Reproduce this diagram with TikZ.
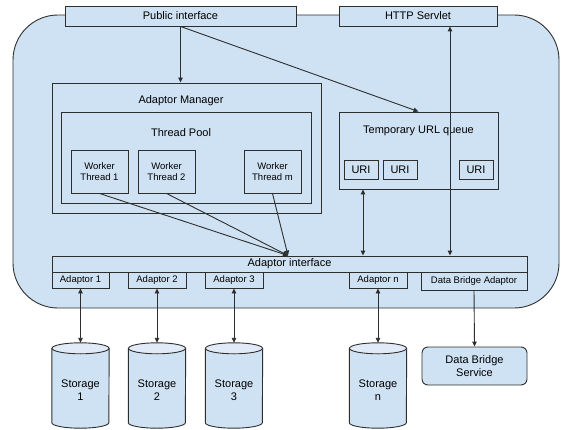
\documentclass[tikz,border=0pt]{standalone}
\usepackage{fontspec}
\setmainfont{Liberation Sans}
\usetikzlibrary{arrows.meta}
\definecolor{paleblue}{HTML}{CFE2F3}
\definecolor{capblue}{HTML}{E1EBF7}
\definecolor{edge}{HTML}{2E2E2E}

% storage drum drawn around a named (invisible) node
\newcommand\storagedrum[1]{%
  \filldraw[drum] ([yshift=-5.5pt]#1.north west) -- ([yshift=5.5pt]#1.south west)
    arc[start angle=180,end angle=360,x radius=28.5pt,y radius=5.5pt]
    -- ([yshift=-5.5pt]#1.north east) -- cycle;
  \filldraw[drum,fill=capblue] ([yshift=-5.5pt]#1.north) ellipse[x radius=28.5pt,y radius=5.5pt];
}

\begin{document}
\begin{tikzpicture}[x=1pt,y=-1pt,
  box/.style={draw=edge,line width=0.9pt,fill=paleblue,inner sep=0pt,
    font=\fontsize{11}{13}\selectfont,align=center},
  smallbox/.style={box,font=\fontsize{9.5}{11}\selectfont},
  title/.style={inner sep=0pt,font=\fontsize{11}{13}\selectfont},
  drumnode/.style={inner sep=0pt,minimum width=57pt,minimum height=85pt},
  drum/.style={draw=edge,line width=0.9pt,fill=paleblue},
  drumtext/.style={inner sep=0pt,align=center,font=\fontsize{11}{13.5}\selectfont},
  arr/.style={draw=edge,line width=0.9pt,-{Triangle[length=5pt,width=4.5pt]}},
  darr/.style={draw=edge,line width=0.9pt,{Triangle[length=5pt,width=4.5pt]}-{Triangle[length=5pt,width=4.5pt]}}]
\useasboundingbox (0,0) rectangle (561,430);

% system boundary
\node[box,rounded corners=45pt,minimum width=546pt,minimum height=293pt] (sys) at (286,161.5) {};

% external interfaces
\node[box,minimum width=231pt,minimum height=20pt] (pub) at (180.5,16) {Public interface};
\node[box,minimum width=158pt,minimum height=20pt] (http) at (418,16) {HTTP Servlet};

% adaptor manager and thread pool
\node[box,minimum width=269pt,minimum height=130pt] (am) at (186.5,148) {};
\node[title] (amt) at (181,101) {Adaptor Manager};
\node[box,minimum width=250pt,minimum height=91pt] (tp) at (186,157.5) {};
\node[title] (tpt) at (181,133) {Thread Pool};
\node[smallbox,minimum width=57pt,minimum height=43pt] (wt1) at (99.5,171.5) {Worker\\Thread 1};
\node[smallbox,minimum width=57pt,minimum height=43pt] (wt2) at (166.5,171.5) {Worker\\Thread 2};
\node[smallbox,minimum width=57pt,minimum height=43pt] (wtm) at (272.5,171.5) {Worker\\Thread m};

% temporary URL queue
\node[box,minimum width=159pt,minimum height=77pt] (url) at (418.5,150.5) {};
\node[title] (urlt) at (418.5,131) {Temporary URL queue};
\node[box,minimum width=34pt,minimum height=19pt] (uri1) at (361,169.5) {URI};
\node[box,minimum width=34pt,minimum height=19pt] (uri2) at (400,169.5) {URI};
\node[box,minimum width=34pt,minimum height=19pt] (uri3) at (476,169.5) {URI};

% adaptor layer
\node[box,minimum width=475pt,minimum height=16pt] (ai) at (289.5,264) {Adaptor interface};
\node[smallbox,minimum width=57pt,minimum height=16pt] (a1) at (80.5,280) {Adaptor 1};
\node[smallbox,minimum width=58pt,minimum height=16pt] (a2) at (157,280) {Adaptor 2};
\node[smallbox,minimum width=58pt,minimum height=16pt] (a3) at (234,280) {Adaptor 3};
\node[smallbox,minimum width=58pt,minimum height=16pt] (an) at (378,280) {Adaptor n};
\node[smallbox,minimum width=106pt,minimum height=18pt] (dba) at (474,281) {Data Bridge Adaptor};

% storages
\node[drumnode] (st1) at (80.5,385.5) {};
\node[drumnode] (st2) at (157,385.5) {};
\node[drumnode] (st3) at (234,385.5) {};
\node[drumnode] (stn) at (378,385.5) {};
\storagedrum{st1}
\storagedrum{st2}
\storagedrum{st3}
\storagedrum{stn}
\node[drumtext] (st1t) at (80.5,390) {Storage\\1};
\node[drumtext] (st2t) at (157,390) {Storage\\2};
\node[drumtext] (st3t) at (234,390) {Storage\\3};
\node[drumtext] (stnt) at (378,390) {Storage\\n};

\node[box,rounded corners=6pt,minimum width=105pt,minimum height=38pt] (dbs) at (474.5,366) {Data Bridge\\Service};

% connectors
\coordinate (hx) at (450,0);
\coordinate (ux) at (363,0);
\coordinate (cv) at (288,0);
\draw[arr] (pub.south) -- (pub.south |- am.north);
\draw[arr] (pub.south) -- (url.north);
\draw[darr] (http.south -| hx) -- (ai.north -| hx);
\draw[darr] (url.south -| ux) -- (ai.north -| ux);
\draw[arr] (wt1.south) -- (ai.north -| cv);
\draw[arr] (wt2.south) -- (ai.north -| cv);
\draw[arr] (wtm.south) -- (ai.north -| cv);
\draw[darr] (a1.south) -- (st1.north);
\draw[darr] (a2.south) -- (st2.north);
\draw[darr] (a3.south) -- (st3.north);
\draw[darr] (an.south) -- (stn.north);
\draw[arr] (dba.south) -- (dbs.north);
\end{tikzpicture}
\end{document}
